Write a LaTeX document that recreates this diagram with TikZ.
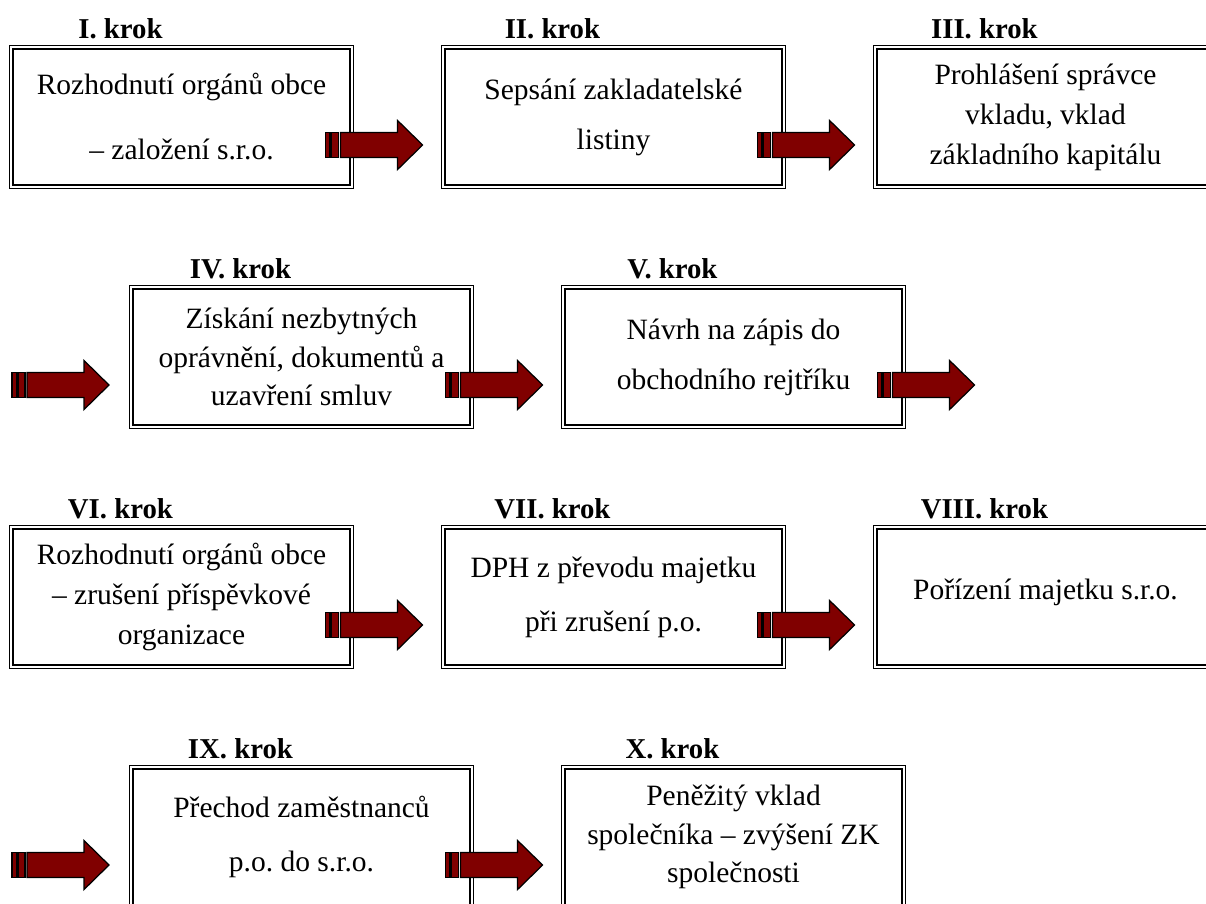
\documentclass[tikz,border=0pt]{standalone}
\usepackage{fontspec}
\setmainfont{Liberation Serif}
\definecolor{arrowred}{HTML}{800000}

\begin{document}
\frenchspacing
\begin{tikzpicture}[x=0.4pt, y=-0.4pt]
	\tikzstyle{stepbox}   = [rectangle, draw=black, double, double distance=0.5pt, line width=0.45pt, minimum width=136.4pt, minimum height=56pt, inner sep=0pt, align=center]
	\tikzstyle{steptitle} = [inner sep=0pt, font=\bfseries\fontsize{11.5}{14}\selectfont]
	\tikzstyle{innerline} = [draw=black, line width=0.4pt]
	\tikzstyle{arrowpart} = [draw=black, fill=arrowred, line width=0.5pt, line join=miter]
	\tikzset{steparrow/.pic={
		\path[arrowpart] (0,-12.5) rectangle (4.5,12.5);
		\path[arrowpart] (6,-12.5) rectangle (13,12.5);
		\path[arrowpart] (15,-12.5) -- (72,-12.5) -- (72,-24.5) -- (97,0) -- (72,24.5) -- (72,12.5) -- (15,12.5) -- cycle;
	}}

	\useasboundingbox (0,0) rectangle (1206,903);
	\clip (0,0) rectangle (1206,903);

	\foreach \i/\nr/\x/\y/\lsk/\txt in {1/I./11/47/26/{Rozhodnutí orgánů obce\\– založení s.r.o.}, 2/II./443/47/20/{Sepsání zakladatelské\\listiny}, 3/III./875/47/16/{Prohlášení správce\\vkladu, vklad\\základního kapitálu}, 4/IV./131/287/15.4/{Získání nezbytných\\oprávnění, dokumentů a\\uzavření smluv}, 5/V./563/287/20/{Návrh na zápis do\\obchodního rejtříku}, 6/VI./11/527/16/{Rozhodnutí orgánů obce\\– zrušení příspěvkové\\organizace}, 7/VII./443/527/21.6/{DPH z převodu majetku\\při zrušení p.o.}, 8/VIII./875/527/16/{\raisebox{6.5pt}{Pořízení majetku s.r.o.}}, 9/IX./131/767/21.6/{Přechod zaměstnanců\\p.o. do s.r.o.}, 10/X./563/767/15.4/{Peněžitý vklad\\společníka – zvýšení ZK\\společnosti}}
	{
		\node[stepbox, font=\fontsize{11.8}{\lsk}\selectfont] (s\i) at (\x+170.5, \y+70) {\txt};
		\draw[innerline] ([shift={(3.4,3.4)}]s\i.north west) rectangle ([shift={(-3.4,-3.4)}]s\i.south east);
		\node[steptitle] (t\i) at ([shift={(110,-18)}]s\i.north west) {\nr\ krok};
	}

	\foreach \i in {1,2,4,5,6,7,9}
		\pic at ([shift={(-27,28)}]s\i.east) {steparrow};
	\foreach \y in {385,865}
		\pic at (12,\y) {steparrow};

\end{tikzpicture}
\end{document}
